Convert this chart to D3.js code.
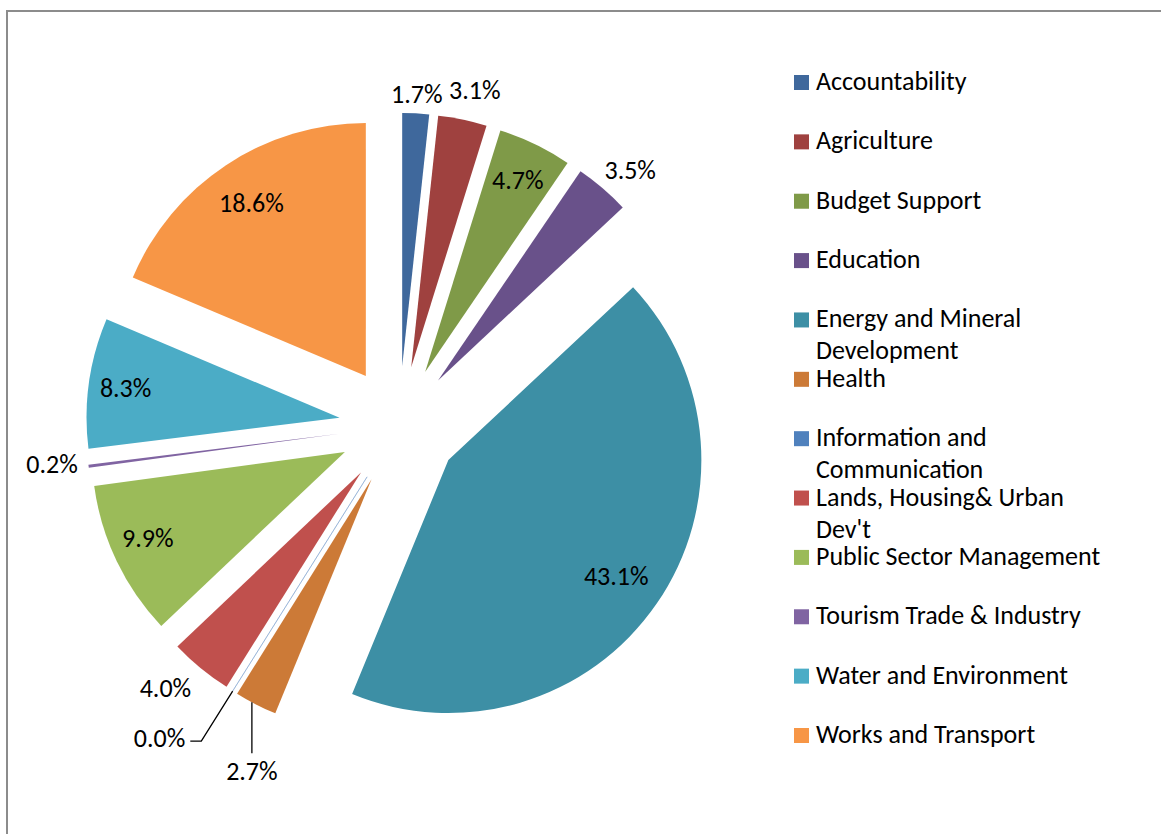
<!DOCTYPE html>
<html>
<head>
<meta charset="utf-8">
<script src="https://cdn.jsdelivr.net/npm/d3@7"></script>
<style>
  html, body { margin: 0; padding: 0; background: #fff; }
  svg { display: block; }
  text { font-family: Carlito, Lato, "Open Sans", sans-serif; fill: #000; }
</style>
</head>
<body>
<svg id="chart" width="1161" height="834"></svg>
<script>
// Sector shares of the budget (percent), clockwise from 12 o'clock
const categories = [
  "Accountability", "Agriculture", "Budget Support", "Education",
  "Energy and Mineral Development", "Health", "Information and Communication",
  "Lands, Housing& Urban Dev't", "Public Sector Management",
  "Tourism Trade & Industry", "Water and Environment", "Works and Transport"
];
const shares = [1.7, 3.1, 4.7, 3.5, 43.1, 2.7, 0.0, 4.0, 9.9, 0.2, 8.3, 18.6];
const sliceColors = [
  "#3F689C", "#9F413F", "#7F9A48", "#69518A", "#3D8FA5", "#CC7A37",
  "#4F81BD", "#C0504D", "#9BBB59", "#8064A2", "#4BACC6", "#F79646"
];
// Legend entries wrapped the way they appear in the key
const legendLines = [
  ["Accountability"], ["Agriculture"], ["Budget Support"], ["Education"],
  ["Energy and Mineral", "Development"], ["Health"],
  ["Information and", "Communication"], ["Lands, Housing& Urban", "Dev't"],
  ["Public Sector Management"], ["Tourism Trade & Industry"],
  ["Water and Environment"], ["Works and Transport"]
];

// Layout
const cx = 399, cy = 426;          // pie centre before explosion
const radius = 253;
const explode = 60;
const fontSize = 26;
// Label placement per slice: distance from centre, angle offset (deg), kind
const labelPlacement = [
  { kind: "out", d: 332, da: 0 },
  { kind: "out", d: 344, da: 1 },
  { kind: "in",  d: 273, da: 0 },
  { kind: "out", d: 345, da: 1.5 },
  { kind: "in",  d: 264, da: 0 },
  { kind: "down", d: 313, da: 0.8 },
  { kind: "elbow", d: 313, da: 0 },
  { kind: "out", d: 351, da: 2.4 },
  { kind: "in",  d: 275, da: 1.6 },
  { kind: "out", d: 349, da: 1.2 },
  { kind: "in",  d: 276, da: 0 },
  { kind: "in",  d: 267, da: 0 }
];

const svg = d3.select("#chart");

// Chart frame (extends past the right and bottom edges)
svg.append("rect")
  .attr("x", 7).attr("y", 11)
  .attr("width", 1300).attr("height", 1000)
  .attr("fill", "none")
  .attr("stroke", "#8c8c8c")
  .attr("stroke-width", 2);

const pie = d3.pie().sort(null).value(d => d);
const arcs = pie(shares);
const arc = d3.arc().innerRadius(0).outerRadius(radius);

const polar = (angleRad, dist) => [cx + dist * Math.sin(angleRad), cy - dist * Math.cos(angleRad)];
const midAngle = a => (a.startAngle + a.endAngle) / 2;

const g = svg.append("g");
g.selectAll("path.slice")
  .data(arcs)
  .join("path")
  .attr("class", "slice")
  .attr("d", arc)
  .attr("fill", (d, i) => sliceColors[i])
  .attr("stroke", (d, i) => d.value === 0 ? sliceColors[i] : "none")
  .attr("stroke-opacity", 0.35)
  .attr("stroke-width", 1)
  .attr("transform", d => {
    const [x, y] = polar(midAngle(d), explode);
    return `translate(${x},${y})`;
  });

// Data labels
const fmt = v => v.toFixed(1) + "%";
arcs.forEach((a, i) => {
  const p = labelPlacement[i];
  const ang = midAngle(a) + p.da * Math.PI / 180;
  if (p.kind === "in" || p.kind === "out") {
    const [x, y] = polar(ang, p.d);
    svg.append("text")
      .attr("x", x).attr("y", y)
      .attr("text-anchor", "middle")
      .attr("dominant-baseline", "central")
      .attr("font-size", fontSize)
      .text(fmt(a.value));
  } else if (p.kind === "down") {
    const [x0, y0] = polar(ang, p.d);
    svg.append("path")
      .attr("d", d3.line()([[x0, y0], [x0, y0 + 51]]))
      .attr("stroke", "#000").attr("stroke-width", 1.3).attr("fill", "none");
    svg.append("text")
      .attr("x", x0).attr("y", y0 + 69)
      .attr("text-anchor", "middle")
      .attr("dominant-baseline", "central")
      .attr("font-size", fontSize)
      .text(fmt(a.value));
  } else if (p.kind === "elbow") {
    const [x0, y0] = polar(ang, p.d);
    const [x1, y1] = polar(ang, p.d + 59);
    svg.append("path")
      .attr("d", d3.line()([[x0, y0], [x1, y1], [x1 - 11, y1]]))
      .attr("stroke", "#000").attr("stroke-width", 1.3).attr("fill", "none");
    svg.append("text")
      .attr("x", x1 - 16).attr("y", y1 - 3)
      .attr("text-anchor", "end")
      .attr("dominant-baseline", "central")
      .attr("font-size", fontSize)
      .text(fmt(a.value));
  }
});

// Legend
const legendY = d3.scalePoint()
  .domain(d3.range(categories.length))
  .range([82, 735]);
const legend = svg.append("g");
categories.forEach((c, i) => {
  const y = legendY(i);
  legend.append("rect")
    .attr("x", 794).attr("y", y - 7)
    .attr("width", 15).attr("height", 15)
    .attr("fill", sliceColors[i]);
  const t = legend.append("text")
    .attr("x", 816).attr("y", y - 1)
    .attr("dominant-baseline", "central")
    .attr("font-size", fontSize);
  legendLines[i].forEach((line, j) => {
    t.append("tspan").attr("x", 816).attr("dy", j === 0 ? 0 : 32).text(line);
  });
});
</script>
</body>
</html>
